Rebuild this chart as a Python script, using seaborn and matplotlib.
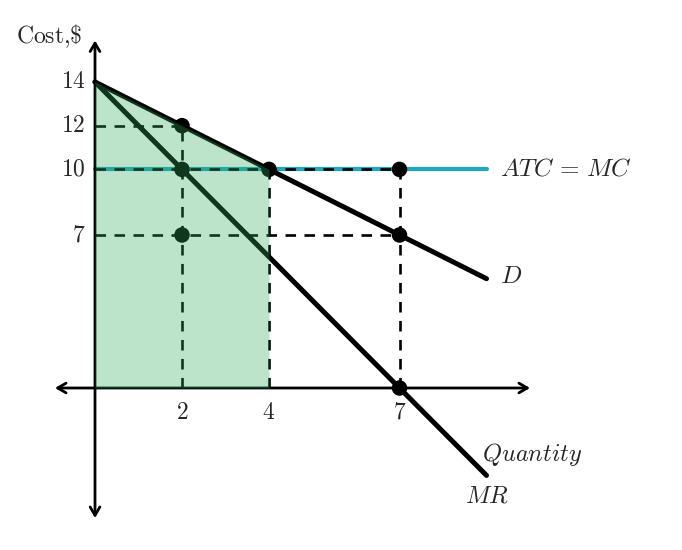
import matplotlib
matplotlib.use("Agg")
import matplotlib.pyplot as plt
import seaborn as sns
import pandas as pd
import numpy as np

sns.set_style("white")
plt.rcParams["mathtext.fontset"] = "cm"
plt.rcParams["font.family"] = ["DejaVu Serif"]

# Data
q_line = [0, 9]
demand = [14, 5]          # D: P = 14 - Q
mr = [14, -4]             # MR: P = 14 - 2Q
atc_mc = [10, 10]
fill_q = [0, 4]
fill_p = [14, 10]
pt_q = [2, 2, 4, 7, 7, 7, 2]
pt_p = [12, 10, 10, 10, 7, 0, 7]
yticks = [14, 12, 10, 7]
xticks = [2, 4, 7]

fig = plt.figure(figsize=(6.82, 5.50), dpi=100)
ax = fig.add_axes([0, 0, 1, 1])
ax.set_xlim(-95 / 43.5, (682 - 95) / 43.5)
ax.set_ylim((388 - 550) / 21.86, 388 / 21.86)
ax.axis("off")

# axes with arrows
arr = dict(arrowstyle="<->,head_length=0.6,head_width=0.35", lw=2.0, color="black",
           shrinkA=0, shrinkB=0)
ax.annotate("", xy=(10.0, 0), xytext=(-0.92, 0), arrowprops=arr)
ax.annotate("", xy=(0, 15.9), xytext=(0, -5.95), arrowprops=arr)

# teal ATC=MC
df_atc = pd.DataFrame({"q": q_line, "p": atc_mc})
sns.lineplot(data=df_atc, x="q", y="p", ax=ax, color="#1ea8c0", lw=3.0)

# dashed guides
dkw = dict(color="black", lw=1.9, dashes=(4, 3.2))
ax.plot([0, 2], [12, 12], **dkw)
ax.plot([0, 7], [10, 10], **dkw)
ax.plot([0, 7], [7, 7], **dkw)
ax.plot([2, 2], [0, 12], **dkw)
ax.plot([4, 4], [0, 10], **dkw)
ax.plot([7, 7], [0, 10], **dkw)

# D and MR
df_d = pd.DataFrame({"q": q_line, "p": demand})
df_mr = pd.DataFrame({"q": q_line, "p": mr})
sns.lineplot(data=df_d, x="q", y="p", ax=ax, color="black", lw=3.6)
sns.lineplot(data=df_mr, x="q", y="p", ax=ax, color="black", lw=3.6)

# points
sns.scatterplot(x=pt_q, y=pt_p, ax=ax, color="black", s=125, zorder=5, edgecolor="none")

# translucent fill
ax.fill_between(fill_q, fill_p, 0, color="#2fac5e", alpha=0.32, lw=0, zorder=10)

# tick labels
for v in yticks:
    ax.text(-0.22, v, f"${v}$", ha="right", va="center", fontsize=17)
for v in xticks:
    ax.text(v, -1.1, f"${v}$", ha="center", va="center", fontsize=17)

ax.text(-0.28, 16.1, r"$\mathrm{Cost{,}\$}$", ha="right", va="center", fontsize=17)
ax.text(9.3, 10, r"$ATC\,=\,MC$", ha="left", va="center", fontsize=18)
ax.text(9.3, 5.1, r"$D$", ha="left", va="center", fontsize=18)
ax.text(8.9, -3.05, r"$Quantity$", ha="left", va="center", fontsize=17.5)
ax.text(9.0, -4.95, r"$MR$", ha="center", va="center", fontsize=17.5)

ax.set_xlabel("")
ax.set_ylabel("")
fig.savefig("out.png", dpi=100)
